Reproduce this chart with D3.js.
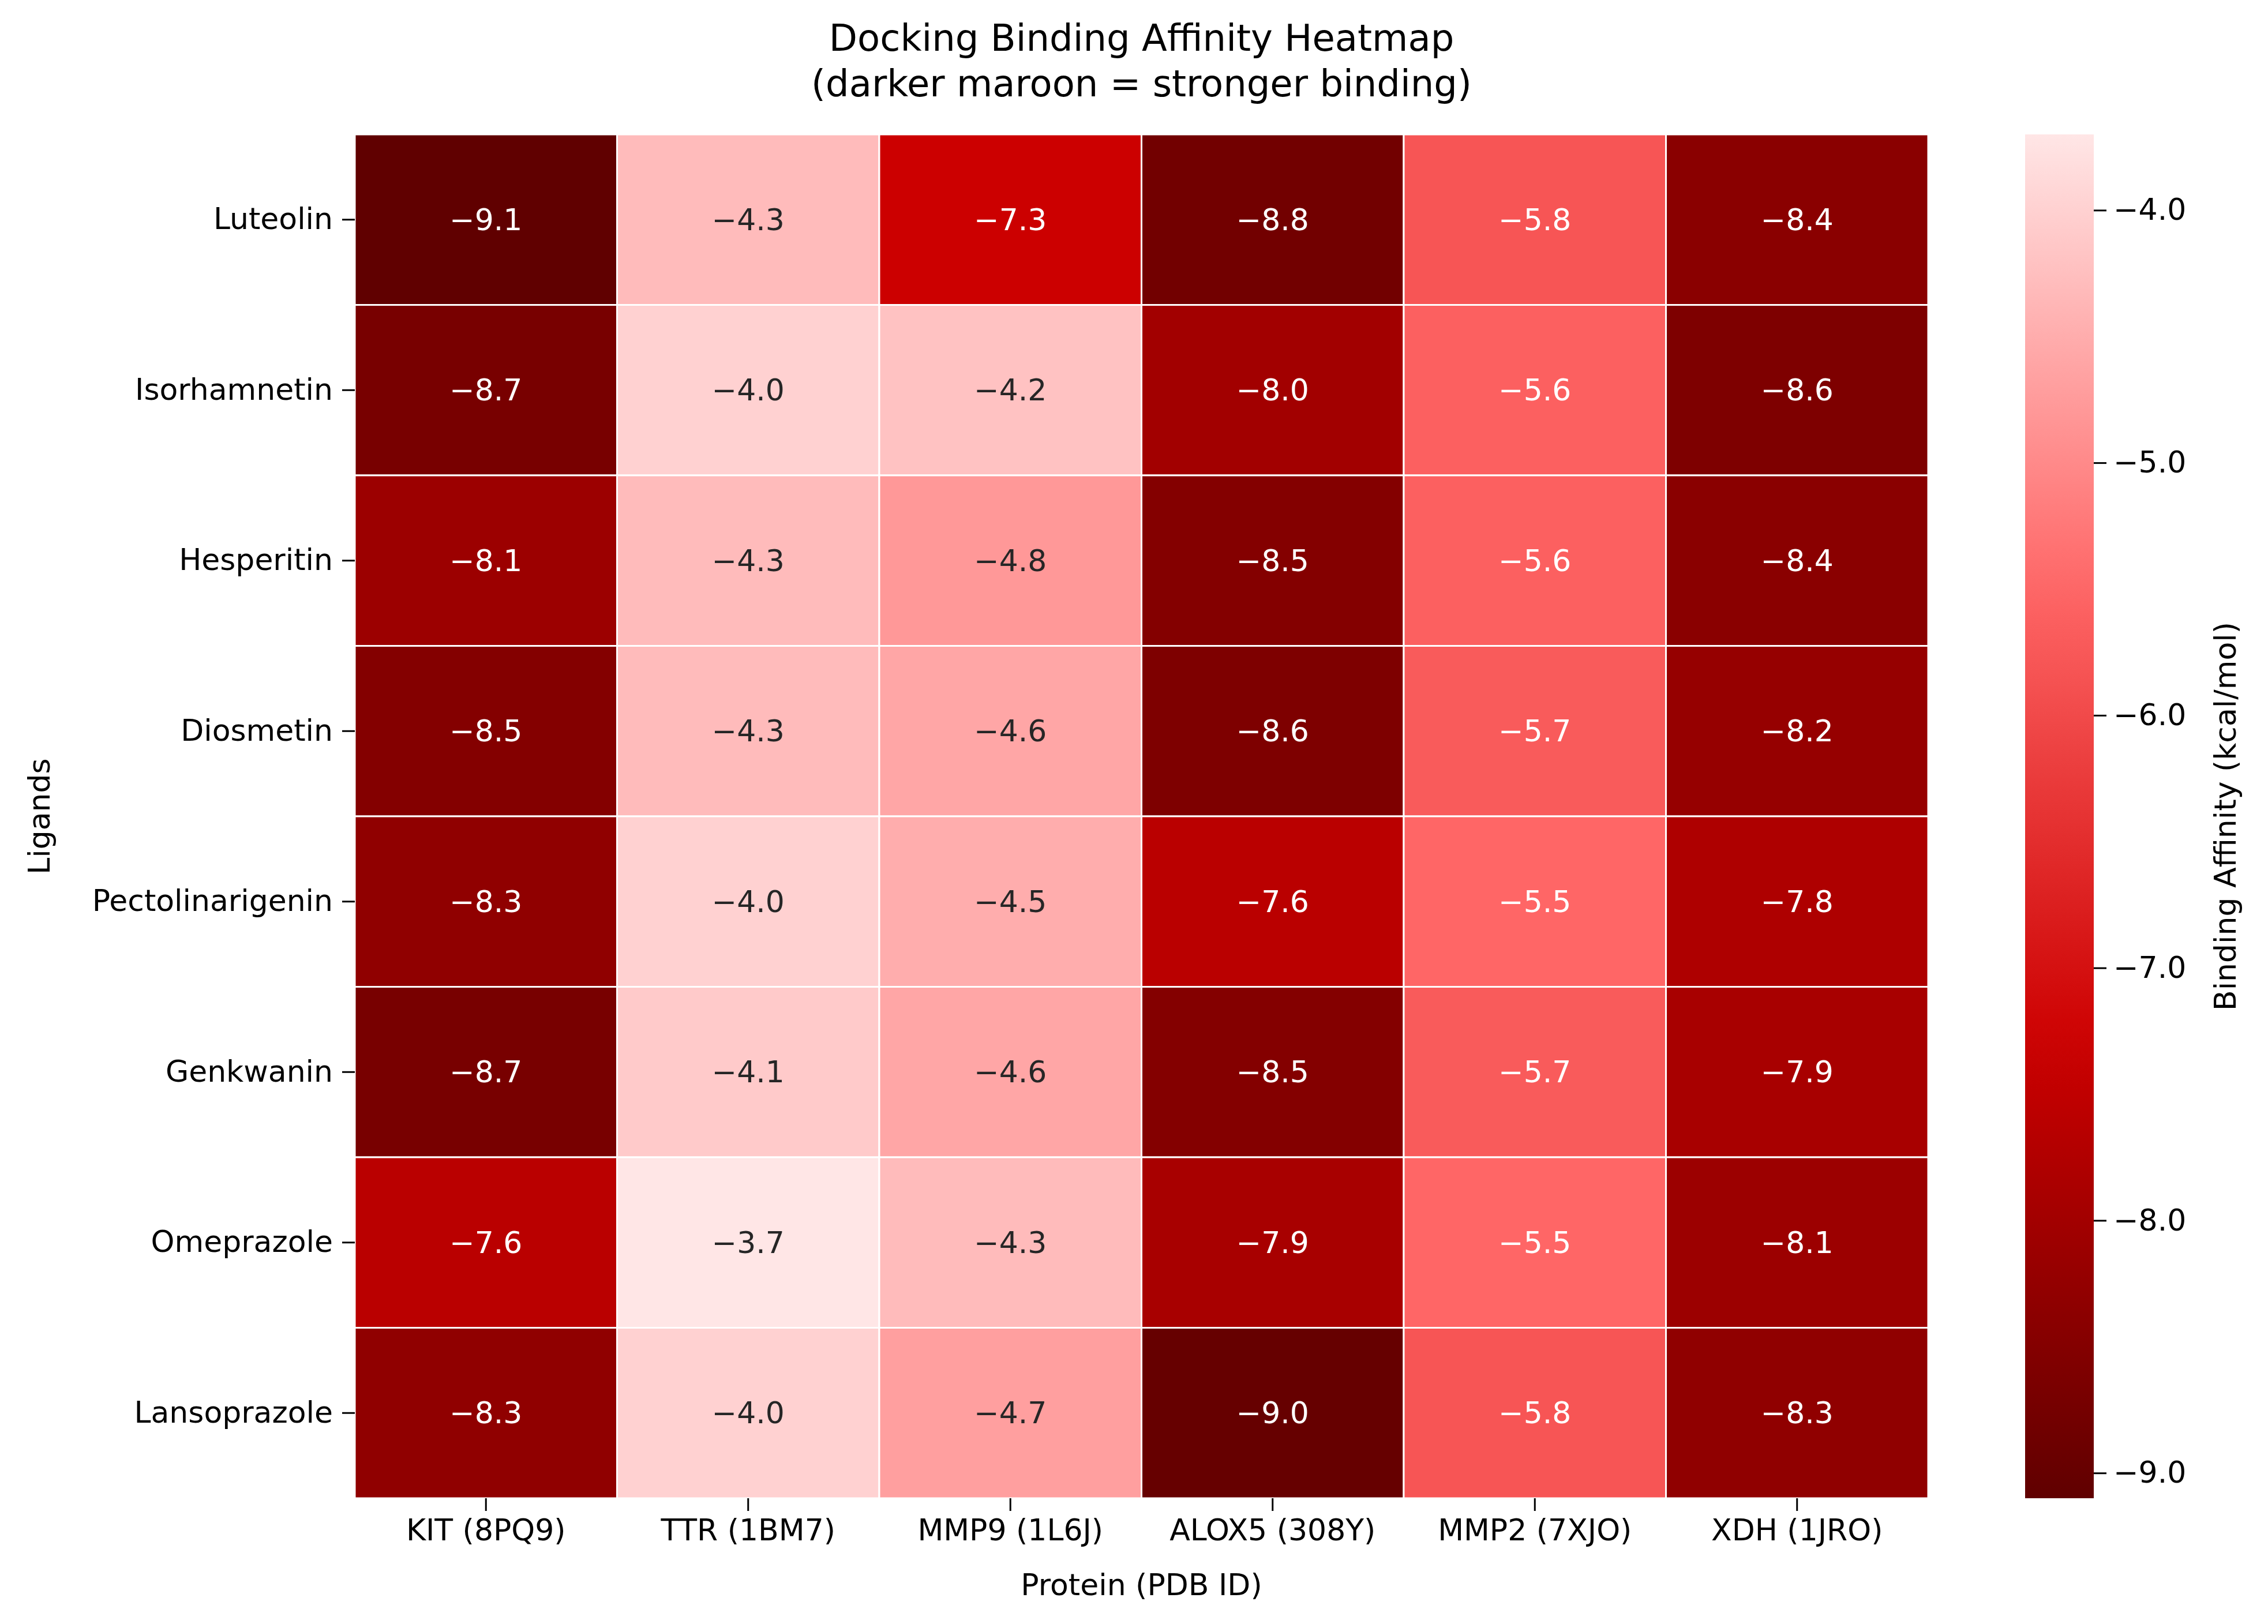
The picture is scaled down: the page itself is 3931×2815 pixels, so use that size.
<!DOCTYPE html>
<html><head><meta charset="utf-8">
<script src="https://d3js.org/d3.v7.min.js"></script>
<style>body{margin:0;background:#fff}text{font-family:"DejaVu Sans",sans-serif}</style>
</head><body>
<script>
const ligands=["Luteolin","Isorhamnetin","Hesperitin","Diosmetin","Pectolinarigenin","Genkwanin","Omeprazole","Lansoprazole"];
const proteins=["KIT (8PQ9)","TTR (1BM7)","MMP9 (1L6J)","ALOX5 (308Y)","MMP2 (7XJO)","XDH (1JRO)"];
const values=[
[-9.1,-4.3,-7.3,-8.8,-5.8,-8.4],
[-8.7,-4.0,-4.2,-8.0,-5.6,-8.6],
[-8.1,-4.3,-4.8,-8.5,-5.6,-8.4],
[-8.5,-4.3,-4.6,-8.6,-5.7,-8.2],
[-8.3,-4.0,-4.5,-7.6,-5.5,-7.8],
[-8.7,-4.1,-4.6,-8.5,-5.7,-7.9],
[-7.6,-3.7,-4.3,-7.9,-5.5,-8.1],
[-8.3,-4.0,-4.7,-9.0,-5.8,-8.3]];
const cbTicks=[-4,-5,-6,-7,-8,-9];
const vmin=-9.1,vmax=-3.7;
const W=3931,H=2815;
const FS=52;
const svg=d3.select("body").append("svg").attr("width",W).attr("height",H);
const L=615,R=3342,T=233,B=2597;
const x=d3.scaleBand().domain(proteins).range([L,R]);
const y=d3.scaleBand().domain(ligands).range([T,B]);
const color=d3.scaleLinear().domain([vmin,-7.3,-5.5,vmax]).range(["#600000","#cc0000","#ff6666","#ffe6e6"]).clamp(true);
const cells=[];values.forEach((r,i)=>r.forEach((v,j)=>cells.push({l:ligands[i],p:proteins[j],v})));
svg.selectAll("rect.c").data(cells).join("rect").attr("x",d=>x(d.p)).attr("y",d=>y(d.l))
 .attr("width",x.bandwidth()).attr("height",y.bandwidth()).attr("fill",d=>color(d.v)).attr("stroke","#fff").attr("stroke-width",3);
svg.selectAll("text.v").data(cells).join("text").attr("x",d=>x(d.p)+x.bandwidth()/2).attr("y",d=>y(d.l)+y.bandwidth()/2)
 .attr("text-anchor","middle").attr("dominant-baseline","central").attr("font-size",FS)
 .attr("fill",d=>{const c=d3.rgb(color(d.v));const lum=(0.299*c.r+0.587*c.g+0.114*c.b)/255;return lum<0.6?"#fff":"#262626";})
 .text(d=>d3.format(".1f")(d.v).replace("-","\u2212"));
const xa=svg.append("g").attr("transform",`translate(0,${B})`).call(d3.axisBottom(x).tickSize(22).tickPadding(14));
const ya=svg.append("g").attr("transform",`translate(${L},0)`).call(d3.axisLeft(y).tickSize(22).tickPadding(16));
[xa,ya].forEach(a=>{a.select(".domain").remove();a.selectAll("text").attr("font-size",FS).attr("fill","#000");a.selectAll("line").attr("stroke","#000").attr("stroke-width",3);});
svg.append("text").attr("x",(L+R)/2).attr("y",2765).attr("text-anchor","middle").attr("font-size",FS).text("Protein (PDB ID)");
svg.append("text").attr("transform",`translate(86,${(T+B)/2}) rotate(-90)`).attr("text-anchor","middle").attr("font-size",FS).text("Ligands");
svg.append("text").attr("x",(L+R)/2).attr("y",88).attr("text-anchor","middle").attr("font-size",64).text("Docking Binding Affinity Heatmap");
svg.append("text").attr("x",(L+R)/2).attr("y",167).attr("text-anchor","middle").attr("font-size",64).text("(darker maroon = stronger binding)");
// colorbar
const cx=3510,cw=119;
const cy=d3.scaleLinear().domain([vmin,vmax]).range([B,T]);
const defs=svg.append("defs");const g=defs.append("linearGradient").attr("id","cb").attr("x1",0).attr("y1",1).attr("x2",0).attr("y2",0);
d3.range(0,1.0001,0.05).forEach(t=>g.append("stop").attr("offset",t).attr("stop-color",color(vmin+t*(vmax-vmin))));
svg.append("rect").attr("x",cx).attr("y",T).attr("width",cw).attr("height",B-T).attr("fill","url(#cb)");
const ca=svg.append("g").attr("transform",`translate(${cx+cw},0)`).call(d3.axisRight(cy).tickValues(cbTicks).tickSize(22).tickPadding(12).tickFormat(d=>d3.format(".1f")(d).replace("-","\u2212")));
ca.select(".domain").remove();ca.selectAll("text").attr("font-size",FS).attr("fill","#000");ca.selectAll("line").attr("stroke","#000").attr("stroke-width",3);
svg.append("text").attr("transform",`translate(3875,${(T+B)/2}) rotate(-90)`).attr("text-anchor","middle").attr("font-size",FS).text("Binding Affinity (kcal/mol)");
</script></body></html>
